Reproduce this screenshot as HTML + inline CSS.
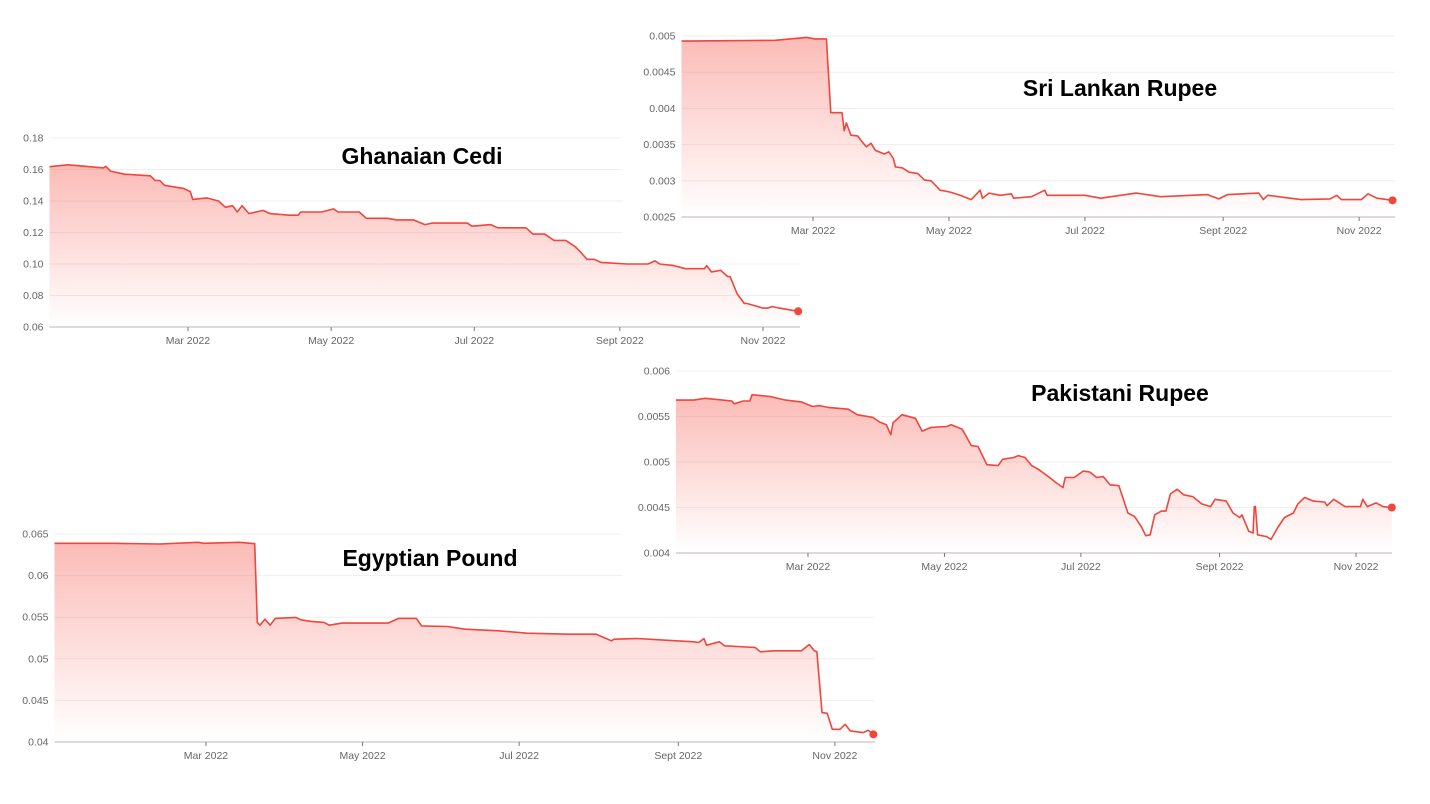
<!DOCTYPE html>
<html><head><meta charset="utf-8"><style>
html,body{margin:0;padding:0;background:#fff;}
svg{display:block;font-family:"Liberation Sans",Arial,sans-serif;}
</style></head><body>
<svg id="chart" width="1430" height="804" viewBox="0 0 1430 804" xmlns="http://www.w3.org/2000/svg">
<defs>
<linearGradient id="fillGrad" x1="0" y1="0" x2="0" y2="1">
<stop offset="0" stop-color="#f44336" stop-opacity="0.36"/>
<stop offset="1" stop-color="#f44336" stop-opacity="0"/>
</linearGradient>
</defs>
</svg>
<script>
// ---- data (day index from 1 Jan 2022, value in USD) ----
const monthLabels = ["Mar 2022","May 2022","Jul 2022","Sept 2022","Nov 2022"];
const monthDays = [59,120,181,243,304];

const ghanaTicks = [0.18,0.16,0.14,0.12,0.10,0.08,0.06];
const ghanaTickLabels = ["0.18","0.16","0.14","0.12","0.10","0.08","0.06"];
const ghanaDays = [0,8,23,24,26,32,43,45,47,49,57,60,61,67,72,75,78,80,82,85,91,94,102,106,107,116,121,123,132,135,144,148,155,160,163,178,180,188,191,203,206,211,215,220,224,226,229,232,235,246,255,258,260,266,271,279,280,282,286,289,290,293,296,297,304,306,308,311,319];
const ghanaValues = [0.1618,0.163,0.161,0.162,0.159,0.157,0.156,0.153,0.153,0.150,0.148,0.146,0.141,0.142,0.140,0.136,0.137,0.133,0.137,0.132,0.134,0.132,0.131,0.131,0.133,0.133,0.135,0.133,0.133,0.129,0.129,0.128,0.128,0.125,0.126,0.126,0.124,0.125,0.123,0.123,0.119,0.119,0.115,0.115,0.111,0.108,0.103,0.103,0.101,0.100,0.100,0.102,0.100,0.099,0.097,0.097,0.099,0.095,0.096,0.092,0.092,0.081,0.075,0.075,0.072,0.072,0.073,0.072,0.070,0.069];

const sriTicks = [0.005,0.0045,0.004,0.0035,0.003,0.0025];
const sriTickLabels = ["0.005","0.0045","0.004","0.0035","0.003","0.0025"];
const sriDays = [0,42,56,60,65,67,72,73,74,76,79,81,83,85,87,91,93,95,96,99,102,106,109,112,116,118,121,125,130,134,135,138,143,148,149,157,163,164,181,188,204,215,236,241,245,259,261,263,273,278,291,294,296,305,308,312,319];
const sriValues = [0.00493,0.00494,0.00498,0.00496,0.00496,0.00394,0.00394,0.00369,0.00380,0.00363,0.00362,0.00354,0.00347,0.00352,0.00342,0.00337,0.00340,0.00331,0.00319,0.00318,0.00312,0.00310,0.00301,0.00300,0.00287,0.00286,0.00284,0.00280,0.00274,0.00287,0.00276,0.00283,0.00280,0.00282,0.00276,0.00278,0.00287,0.00280,0.00280,0.00276,0.00283,0.00278,0.00281,0.00275,0.00281,0.00283,0.00274,0.00280,0.00276,0.00274,0.00275,0.00280,0.00274,0.00274,0.00282,0.00276,0.00273];

const pakTicks = [0.006,0.0055,0.005,0.0045,0.004];
const pakTickLabels = ["0.006","0.0055","0.005","0.0045","0.004"];
const pakDays = [0,8,13,17,25,26,30,33,34,42,49,56,61,64,68,77,81,88,91,94,96,97,101,107,110,114,121,123,128,132,135,139,144,146,151,153,156,159,162,167,170,173,174,178,182,185,188,191,194,198,202,205,208,210,212,214,217,219,221,224,227,231,235,239,241,246,249,252,253,256,258,258.5,259,260,264,266,269,272,276,278,281,285,290,291,294,299,306,307,309,313,316,320];
const pakValues = [0.00568,0.00568,0.00570,0.00569,0.00567,0.00564,0.00567,0.00567,0.00574,0.00572,0.00568,0.00566,0.00561,0.00562,0.00560,0.00558,0.00552,0.00549,0.00544,0.00541,0.00530,0.00543,0.00552,0.00548,0.00534,0.00538,0.00539,0.00541,0.00536,0.00518,0.00517,0.00497,0.00496,0.00503,0.00505,0.00507,0.00505,0.00496,0.00492,0.00483,0.00477,0.00472,0.00483,0.00483,0.00490,0.00489,0.00483,0.00484,0.00475,0.00474,0.00444,0.00440,0.00429,0.00419,0.00420,0.00442,0.00446,0.00446,0.00465,0.00470,0.00464,0.00462,0.00454,0.00451,0.00459,0.00457,0.00444,0.00439,0.00442,0.00424,0.00422,0.00451,0.00451,0.00420,0.00418,0.00415,0.00428,0.00439,0.00444,0.00454,0.00461,0.00457,0.00456,0.00452,0.00459,0.00451,0.00451,0.00459,0.00451,0.00455,0.00451,0.00450];

const egyTicks = [0.065,0.06,0.055,0.05,0.045,0.04];
const egyTickLabels = ["0.065","0.06","0.055","0.05","0.045","0.04"];
const egyDays = [0,23,41,56,58,72,78,79,80,82,84,86,94,96,100,105,107,112,118,130,134,141,143,153,160,173,184,200,211,214,217,218,227,238,249,251,253,254,259,261,273,275,280,291,294,296,297,299,301,303,306,308,310,315,317,319];
const egyValues = [0.06388,0.06388,0.06380,0.06400,0.06388,0.06400,0.06384,0.05437,0.05404,0.05477,0.05404,0.05485,0.05497,0.05469,0.05449,0.05437,0.05404,0.05429,0.05429,0.05429,0.05485,0.05485,0.05396,0.05388,0.05356,0.05336,0.05308,0.05296,0.05296,0.05256,0.05216,0.05236,0.05244,0.05224,0.05204,0.05196,0.05244,0.05164,0.05204,0.05156,0.05136,0.05084,0.05096,0.05096,0.05172,0.05096,0.05084,0.04353,0.04345,0.04153,0.04153,0.04213,0.04133,0.04113,0.04141,0.04092];

// ---- layout (geometry only) ----
const svg = document.getElementById('chart');
const NS = 'http://www.w3.org/2000/svg';
function mk(tag, attrs, parent){
  const e = document.createElementNS(NS, tag);
  for (const k in attrs) e.setAttribute(k, attrs[k]);
  parent.appendChild(e);
  return e;
}

function drawChart(name, cfg, ticks, tickLabels, days, values){
  const g = mk('g', {}, svg);
  
  
  if (cfg.bg){
    const bg = mk('rect', {x:cfg.bg[0], y:cfg.bg[1], width:cfg.bg[2], height:cfg.bg[3], fill:'#fff'}, g);
    
    
  }
  const tMax = ticks[0], tMin = ticks[ticks.length-1];
  const yS = v => cfg.yTop + (tMax - v) / (tMax - tMin) * (cfg.yBot - cfg.yTop);
  const xS = d => cfg.x0 + d * cfg.ppd;
  // gridlines + y labels
  ticks.forEach((t, i) => {
    const y = yS(t);
    if (i < ticks.length - 1){
      const gl = mk('line', {x1:cfg.x0, x2:cfg.gridRight, y1:y, y2:y, stroke:'#efefef', 'stroke-width':1}, g);
      
      
    }
    const tl = mk('text', {x:cfg.x0 - 6, y:y + 3.5, 'text-anchor':'end', 'font-size':10.5, fill:'#666'}, g);
    tl.textContent = tickLabels[i];
    
    
  });
  // area
  let pts = days.map((d, i) => xS(d).toFixed(1) + ',' + yS(values[i]).toFixed(1));
  const area = mk('polygon', {points: xS(days[0]) + ',' + cfg.yBot + ' ' + pts.join(' ') + ' ' + xS(days[days.length-1]) + ',' + cfg.yBot, fill:'url(#fillGrad)'}, g);
  
  
  // axis
  const ax = mk('line', {x1:cfg.x0, x2:cfg.gridRight, y1:cfg.yBot, y2:cfg.yBot, stroke:'#cfcfcf', 'stroke-width':1.5}, g);
  
  
  monthDays.forEach((d, i) => {
    const x = xS(d);
    const tk = mk('line', {x1:x, x2:x, y1:cfg.yBot, y2:cfg.yBot + 4, stroke:'#777', 'stroke-width':1}, g);
    
    
    const lb = mk('text', {x:x, y:cfg.yBot + 17, 'text-anchor':'middle', 'font-size':10.5, fill:'#666'}, g);
    lb.textContent = monthLabels[i];
    
    
  });
  // line
  const ln = mk('polyline', {points: pts.join(' '), fill:'none', stroke:'#f0463c', 'stroke-width':1.6, 'stroke-linejoin':'round'}, g);
  
  
  const last = days.length - 1;
  const dot = mk('circle', {cx:xS(days[last]), cy:yS(values[last]), r:4, fill:'#f0463c'}, g);
  
  
  // title
  const tt = mk('text', {x:cfg.title[0], y:cfg.title[1], 'text-anchor':'middle', 'font-size':23, 'font-weight':'bold', fill:'#000'}, g);
  tt.textContent = cfg.title[2];
  
  
}

drawChart('ghanaian-cedi', {x0:49.5, ppd:2.347, yTop:138, yBot:327, gridRight:800, title:[422,164,'Ghanaian Cedi']}, ghanaTicks, ghanaTickLabels, ghanaDays, ghanaValues);
drawChart('sri-lankan-rupee', {x0:681.5, ppd:2.229, yTop:36, yBot:217, gridRight:1395, bg:[622,0,808,256], title:[1120,96,'Sri Lankan Rupee']}, sriTicks, sriTickLabels, sriDays, sriValues);
drawChart('egyptian-pound', {x0:54.5, ppd:2.567, yTop:534, yBot:742, gridRight:875, title:[430,566,'Egyptian Pound']}, egyTicks, egyTickLabels, egyDays, egyValues);
drawChart('pakistani-rupee', {x0:676, ppd:2.237, yTop:371, yBot:553, gridRight:1392, bg:[622,356,808,238], title:[1120,401,'Pakistani Rupee']}, pakTicks, pakTickLabels, pakDays, pakValues);
</script>
</body></html>
